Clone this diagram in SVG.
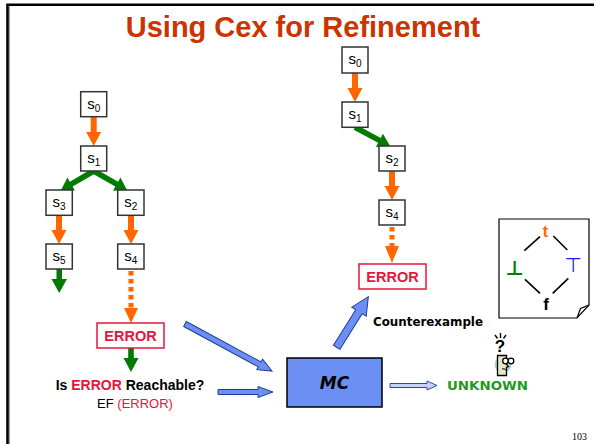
<svg xmlns="http://www.w3.org/2000/svg" width="594" height="444" viewBox="0 0 594 444">
  <style>
    .box { fill: #ffffff; stroke: #333333; stroke-width: 1.5; }
    .lbl { font-family: "Liberation Sans", Arial, sans-serif; font-size: 15px; fill: #000000; text-anchor: middle; }
    .sub { font-size: 10px; }
    .err-box { fill: #ffffff; stroke: #e8143c; stroke-width: 1.5; }
    .err-txt { font-family: "Liberation Sans", Arial, sans-serif; font-size: 14.5px; font-weight: bold; fill: #e8143c; text-anchor: middle; }
    .orange { fill: #ff6600; }
    .green { fill: #007a00; }
    .dash { stroke: #ff6600; stroke-width: 5; stroke-dasharray: 4.5 3.5; fill: none; }
    .blue { fill: #6b8ff2; stroke: #1f3c96; stroke-width: 1; }
    .comic { font-family: "DejaVu Sans", sans-serif; font-weight: bold; }
    .lat { stroke: #000000; stroke-width: 1.6; }
  </style>

  <!-- page frame -->
  <path d="M9.5,444 V6.5" stroke="#999999" stroke-width="1" fill="none"/>
  <path d="M7.5,444 V4.7 H594" stroke="#000000" stroke-width="2.6" fill="none"/>

  <!-- title -->
  <text x="303" y="37" font-family="Liberation Sans, Arial, sans-serif" font-size="29" font-weight="bold" fill="#cc3300" text-anchor="middle">Using Cex for Refinement</text>

  <!-- connectors -->
  <g id="connectors">
    <!-- left tree -->
    <polygon class="orange" points="90.7,116.7 96.7,116.7 96.7,132 101.2,132 93.7,146 86.2,132 90.7,132"/>
    <g transform="translate(93.7,171) rotate(149.8)"><polygon class="green" points="0,-2.8 26,-2.8 26,-7.5 37.8,0 26,7.5 26,2.8 0,2.8"/></g>
    <g transform="translate(93.7,171) rotate(29.7)"><polygon class="green" points="0,-2.8 26.5,-2.8 26.5,-7.5 38.3,0 26.5,7.5 26.5,2.8 0,2.8"/></g>
    <polygon class="orange" points="56,215.5 62,215.5 62,230 66.5,230 59,244 51.5,230 56,230"/>
    <polygon class="orange" points="128,215.5 134,215.5 134,230 138.5,230 131,244 123.5,230 128,230"/>
    <polygon class="green" points="56.5,269 62,269 62,279 67,279 59.2,293 51.5,279 56.5,279"/>
    <line class="dash" x1="131" y1="271" x2="131" y2="308"/>
    <polygon class="orange" points="124,308 138,308 131,323"/>
    <polygon class="green" points="128.2,348 133.8,348 133.8,358 138.5,358 131,372 123.5,358 128.2,358"/>

    <!-- right path -->
    <polygon class="orange" points="352,73 358,73 358,88 362.5,88 355,102 347.5,88 352,88"/>
    <g transform="translate(355,127.3) rotate(28.1)"><polygon class="green" points="0,-2.8 27.7,-2.8 27.7,-7.5 39.7,0 27.7,7.5 27.7,2.8 0,2.8"/></g>
    <polygon class="orange" points="389,171 395,171 395,186 399.5,186 392,200 384.5,186 389,186"/>
    <line class="dash" x1="392" y1="227" x2="392" y2="246"/>
    <polygon class="orange" points="385,246 399,246 392,263"/>

    <!-- flow into and out of the model checker -->
    <g transform="translate(185,324) rotate(28.4)"><polygon class="blue" points="0,-2.8 84.9,-2.8 84.9,-6 98.9,0 84.9,6 84.9,2.8 0,2.8"/></g>
    <polygon class="blue" points="218,389.5 258,389.5 258,386.5 273,392 258,397.5 258,394.5 218,394.5"/>
    <g transform="translate(336.7,347.3) rotate(-58)"><polygon class="blue" points="0,-3.8 42,-3.8 42,-8.5 59.7,0 42,8.5 42,3.8 0,3.8"/></g>
    <polygon points="390,383.5 427,383.5 427,381 437,385.5 427,390 427,387.5 390,387.5" fill="#c5d3fb" stroke="#2a4aa8" stroke-width="1"/>
  </g>

  <!-- left tree nodes -->
  <g id="L-s0"><rect class="box" x="80.7" y="91.7" width="26" height="25"/><text class="lbl" x="93.7" y="108.5">s<tspan class="sub" dy="3">0</tspan></text></g>
  <g id="L-s1"><rect class="box" x="80.7" y="146" width="26" height="25"/><text class="lbl" x="93.7" y="162.8">s<tspan class="sub" dy="3">1</tspan></text></g>
  <g id="L-s3"><rect class="box" x="46" y="190" width="26.3" height="25.3"/><text class="lbl" x="59" y="207">s<tspan class="sub" dy="3">3</tspan></text></g>
  <g id="L-s2"><rect class="box" x="117.7" y="190" width="26.3" height="25.3"/><text class="lbl" x="130.8" y="207">s<tspan class="sub" dy="3">2</tspan></text></g>
  <g id="L-s5"><rect class="box" x="46" y="244" width="26.3" height="25"/><text class="lbl" x="59" y="261">s<tspan class="sub" dy="3">5</tspan></text></g>
  <g id="L-s4"><rect class="box" x="117.7" y="244" width="26.3" height="25"/><text class="lbl" x="130.8" y="261">s<tspan class="sub" dy="3">4</tspan></text></g>
  <g id="L-error"><rect class="err-box" x="97" y="323" width="67" height="25"/><text class="err-txt" x="130.5" y="341">ERROR</text></g>

  <!-- query -->
  <g id="query">
    <text x="130" y="390" font-family="Liberation Sans, Arial, sans-serif" font-size="14" font-weight="bold" text-anchor="middle" fill="#000">Is <tspan fill="#e8143c">ERROR</tspan> Reachable?</text>
    <text x="135" y="407.5" font-family="Liberation Sans, Arial, sans-serif" font-size="13" text-anchor="middle" fill="#000">EF <tspan fill="#e8143c">(ERROR)</tspan></text>
  </g>

  <!-- right path nodes -->
  <g id="R-s0"><rect class="box" x="342" y="47" width="26" height="26"/><text class="lbl" x="355" y="64">s<tspan class="sub" dy="3">0</tspan></text></g>
  <g id="R-s1"><rect class="box" x="342" y="102" width="26" height="25.3"/><text class="lbl" x="355" y="119">s<tspan class="sub" dy="3">1</tspan></text></g>
  <g id="R-s2"><rect class="box" x="379" y="146" width="26" height="25"/><text class="lbl" x="392" y="163">s<tspan class="sub" dy="3">2</tspan></text></g>
  <g id="R-s4"><rect class="box" x="379" y="200" width="26" height="25"/><text class="lbl" x="392" y="217">s<tspan class="sub" dy="3">4</tspan></text></g>
  <g id="R-error"><rect class="err-box" x="359" y="264" width="67" height="25"/><text class="err-txt" x="392.5" y="282">ERROR</text></g>

  <!-- model checker -->
  <g id="mc">
    <rect x="287" y="358" width="95" height="49" fill="#6b8ff2" stroke="#000000" stroke-width="1.5"/>
    <text class="comic" x="334.5" y="389" font-size="17" font-style="italic" text-anchor="middle" fill="#000">MC</text>
  </g>

  <g id="cex-label"><text class="comic" x="373" y="326" font-size="12" textLength="110" lengthAdjust="spacingAndGlyphs" fill="#000">Counterexample</text></g>

  <!-- result -->
  <g id="unknown">
    <text class="comic" x="447" y="390" font-size="13" textLength="81" lengthAdjust="spacingAndGlyphs" fill="#1f9a1f">UNKNOWN</text>
    <g id="puzzled-icon">
      <path d="M495,335 l2.5,3.5 M500.5,333 v5 M506,335 l-2.5,3.5" stroke="#000" stroke-width="1.4" fill="none"/>
      <text x="500" y="352" font-family="Liberation Sans, Arial, sans-serif" font-size="17" font-weight="bold" text-anchor="middle" fill="#000">?</text>
      <circle cx="503" cy="364.5" r="8.5" fill="#a8d8dc"/>
      <path d="M497.5,355.5 h9 v9 l2,2 l-2,1 v8 h-9 z" fill="#e8e4c8" stroke="#000" stroke-width="1.3"/>
      <circle cx="505.5" cy="361" r="2.8" fill="#fff" stroke="#000" stroke-width="1.3"/>
      <circle cx="511" cy="361" r="2.8" fill="#fff" stroke="#000" stroke-width="1.3"/>
      <path d="M502,369 q2,-1 4,1" stroke="#000" stroke-width="1" fill="none"/>
    </g>
  </g>

  <!-- truth lattice note -->
  <g id="lattice">
    <path d="M499,219 H589 V305 L577,318 H499 Z" fill="#ffffff" stroke="#000000" stroke-width="1.2"/>
    <path d="M589,305 L580.5,308.5 L577,318" fill="none" stroke="#000000" stroke-width="1.2"/>
    <line class="lat" x1="524.3" y1="250.7" x2="540" y2="236.7"/>
    <line class="lat" x1="553.3" y1="236" x2="567.3" y2="250"/>
    <line class="lat" x1="525" y1="279.3" x2="540" y2="293.3"/>
    <line class="lat" x1="552.7" y1="293.3" x2="568.3" y2="278.3"/>
    <text x="545.5" y="237" font-family="Liberation Sans, Arial, sans-serif" font-size="16" font-weight="bold" fill="#ff6600" text-anchor="middle">t</text>
    <text x="514.5" y="275" font-family="DejaVu Sans, sans-serif" font-size="20" font-weight="bold" fill="#008000" text-anchor="middle">⊥</text>
    <text x="573" y="272" font-family="DejaVu Sans, sans-serif" font-size="20" fill="#1a1aff" text-anchor="middle">⊤</text>
    <text x="546" y="310" font-family="Liberation Sans, Arial, sans-serif" font-size="17" font-weight="bold" fill="#000" text-anchor="middle">f</text>
  </g>

  <!-- slide number -->
  <text x="587" y="440" font-family="Liberation Serif, Times New Roman, serif" font-size="10" text-anchor="end" fill="#000">103</text>
</svg>
